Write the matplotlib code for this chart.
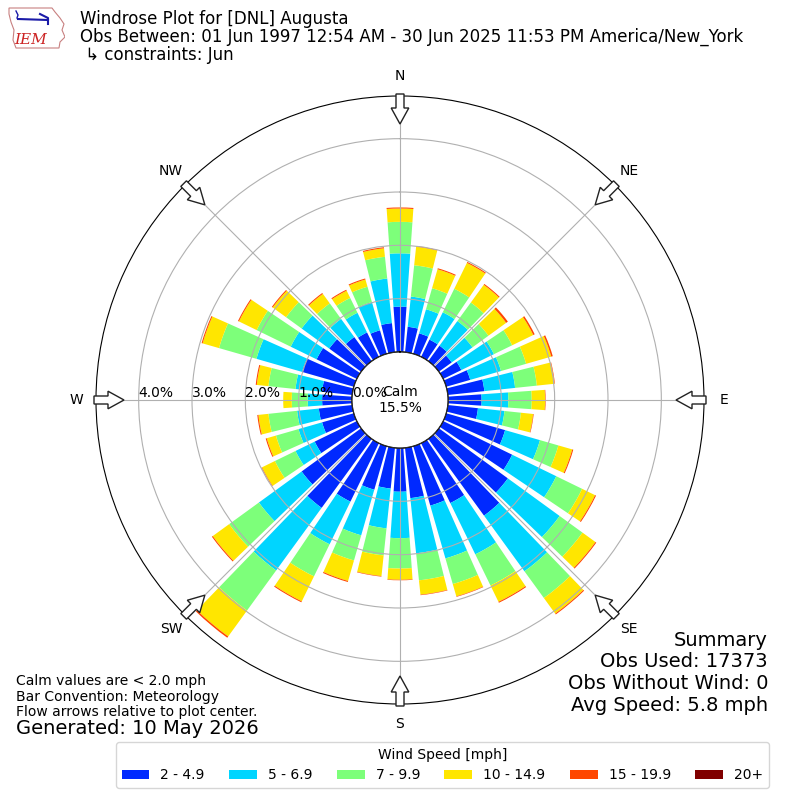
import numpy as np
import matplotlib
matplotlib.use("Agg")
import matplotlib.pyplot as plt
from matplotlib.patches import FancyArrow, Patch, Polygon

# wind direction bins (deg, meteorological) and frequency (%) per speed class
directions = np.arange(0, 360, 10)
speed_labels = ["2 - 4.9", "5 - 6.9", "7 - 9.9", "10 - 14.9", "15 - 19.9", "20+"]
pct_2_5 = [0.85, 0.48, 0.40, 0.36, 0.36, 0.30, 0.38, 0.47, 0.69, 0.63, 0.57, 1.15,
           1.44, 1.60, 1.78, 1.25, 1.16, 0.95, 0.82, 0.77, 0.85, 1.22, 1.60, 1.38,
           0.88, 0.62, 0.63, 0.56, 0.57, 1.01, 0.84, 0.74, 0.56, 0.51, 0.46, 0.55]
pct_5_7 = [1.00, 0.57, 0.47, 0.57, 0.57, 0.48, 0.68, 0.60, 0.58, 0.50, 0.50, 0.68,
           0.92, 1.20, 1.29, 1.07, 1.03, 1.04, 0.87, 0.75, 0.89, 0.89, 1.45, 0.99,
           0.40, 0.46, 0.41, 0.27, 0.50, 0.89, 0.54, 0.64, 0.42, 0.41, 0.55, 0.84]
pct_7_10 = [0.59, 0.59, 0.41, 0.49, 0.43, 0.37, 0.38, 0.49, 0.41, 0.44, 0.31, 0.36,
            0.54, 0.53, 0.62, 0.65, 0.50, 0.51, 0.57, 0.51, 0.49, 0.67, 0.93, 0.69,
            0.43, 0.44, 0.54, 0.30, 0.51, 0.73, 0.71, 0.36, 0.36, 0.31, 0.30, 0.41]
pct_10_15 = [0.25, 0.35, 0.37, 0.54, 0.41, 0.41, 0.44, 0.49, 0.33, 0.25, 0.23, 0.27,
             0.27, 0.30, 0.36, 0.34, 0.24, 0.27, 0.21, 0.39, 0.40, 0.52, 0.60, 0.38,
             0.27, 0.18, 0.19, 0.16, 0.22, 0.32, 0.37, 0.31, 0.22, 0.15, 0.14, 0.16]
pct_15_20 = [0.02, 0.01, 0.02, 0.02, 0.02, 0.04, 0.03, 0.03, 0.01, 0.01, 0.01, 0.02,
             0.02, 0.02, 0.02, 0.02, 0.01, 0.01, 0.01, 0.01, 0.02, 0.02, 0.03, 0.02,
             0.01, 0.02, 0.02, 0.00, 0.02, 0.02, 0.02, 0.02, 0.02, 0.02, 0.02, 0.02]
pct_20p = [0.0] * 36
calm_pct = 15.5
rings = [0, 1, 2, 3, 4]
compass = ["N", "NE", "E", "SE", "S", "SW", "W", "NW"]

series = [pct_2_5, pct_5_7, pct_7_10, pct_10_15, pct_15_20, pct_20p]
colors = plt.get_cmap("jet")(np.linspace(0, 1, 7)[1:])

fig = plt.figure(figsize=(8, 8), dpi=100)
ax = fig.add_axes([0.12, 0.12, 0.76, 0.76], projection="polar")
ax.set_theta_zero_location("N")
ax.set_theta_direction(-1)
ax.set_rorigin(-0.9)
ax.set_ylim(0, 4.8)

theta = np.radians(directions)
bottom = np.zeros(len(directions))
for vals, c in zip(series, colors):
    vals = np.array(vals)
    ax.bar(theta, vals, width=np.radians(8), bottom=bottom, color=c,
           edgecolor="none", linewidth=0)
    bottom += vals

ax.set_xticks(np.radians(np.arange(0, 360, 45)))
ax.set_xticklabels([])
ax.set_yticks(rings)
ax.set_yticklabels([])
ax.set_axisbelow(False)
ax.grid(True, color="#b0b0b0", lw=0.8)
tt = np.linspace(0, 2 * np.pi, 400)
ax.plot(tt, np.zeros_like(tt), color="k", lw=1, zorder=4)

for r in rings:
    ax.text(np.radians(270), r, f"{r:.1f}%", ha="left", va="bottom", fontsize=10)

fig.text(0.5, 0.5, f"Calm\n{calm_pct}%", ha="center", va="center", fontsize=10)

# compass labels and inward flow arrows
for i, lab in enumerate(compass):
    a = np.radians(i * 45)
    sx, sy = np.sin(a), np.cos(a)
    fig.text(0.5 + 0.405 * sx, 0.5 + 0.405 * sy, lab, ha="center",
             va="center", fontsize=10)
    r0 = 0.3825
    L = 0.0375
    fig.patches.append(FancyArrow(0.5 + r0 * sx, 0.5 + r0 * sy, -L * sx, -L * sy,
                                  width=0.01, head_width=0.022, head_length=0.02,
                                  length_includes_head=True, fc="white", ec="#222222",
                                  lw=1, transform=fig.transFigure, figure=fig))

# titles
fig.text(0.1, 0.976, "Windrose Plot for [DNL] Augusta", fontsize=12, va="center")
fig.text(0.1, 0.954, "Obs Between: 01 Jun 1997 12:54 AM - 30 Jun 2025 11:53 PM "
         "America/New_York", fontsize=12, va="center")
fig.text(0.1, 0.931, " \u21b3 constraints: Jun", fontsize=12, va="center")

# notes
fig.text(0.02, 1 - 681 / 800, "Calm values are < 2.0 mph", fontsize=10, va="center")
fig.text(0.02, 1 - 697 / 800, "Bar Convention: Meteorology", fontsize=10, va="center")
fig.text(0.02, 1 - 712 / 800, "Flow arrows relative to plot center.", fontsize=10,
         va="center")
fig.text(0.02, 1 - 729 / 800, "Generated: 10 May 2026", fontsize=14, va="center")

summary = ["Summary", "Obs Used: 17373", "Obs Without Wind: 0", "Avg Speed: 5.8 mph"]
for i, s in enumerate(summary):
    fig.text(0.96, 1 - (640 + 21.7 * i) / 800, s, fontsize=14, ha="right", va="center")

handles = [Patch(facecolor=c, edgecolor="none") for c in colors]
fig.legend(handles, speed_labels, loc="lower center", ncol=6,
           bbox_to_anchor=(0.553, 0.015), borderaxespad=0, columnspacing=1.75,
           title="Wind Speed [mph]", fontsize=10, title_fontsize=10)

# rough IEM logo
lax = fig.add_axes([0.01, 1 - 50 / 800, 57 / 800, 46 / 800])
lax.set_xlim(0, 57)
lax.set_ylim(46, 0)
lax.axis("off")
iowa = [(1, 4), (44, 4), (47, 8), (52, 14), (56, 20), (54, 26), (57, 33), (52, 38),
        (51, 44), (8, 44), (5, 36), (6, 26), (3, 18), (1, 10)]
lax.add_patch(Polygon(iowa, closed=True, fill=False, ec="#c88080", lw=0.8))
lax.plot([10, 40], [15, 16], color="#1a1aa8", lw=1.5)
lax.plot([8, 10, 9], [7, 11, 14], color="#1a1aa8", lw=1)
lax.plot([32, 40, 40], [10, 14, 20], color="#1a1aa8", lw=1.5)
lax.text(6, 36, "IEM", color="#cc2222", fontsize=11, fontstyle="italic",
         family="serif", va="center")

fig.savefig("out.png", dpi=100)
